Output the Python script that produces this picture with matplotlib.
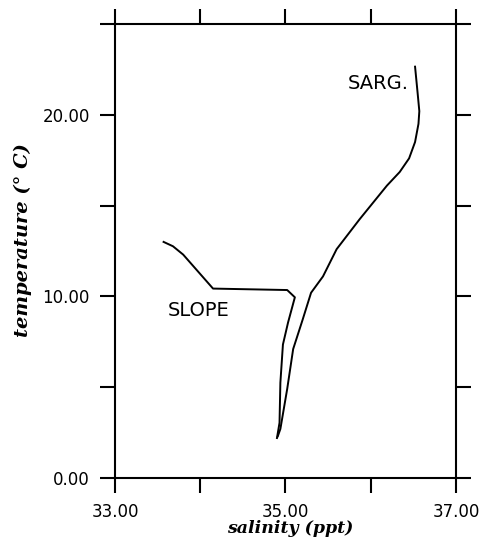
import matplotlib
matplotlib.use("Agg")
import matplotlib.pyplot as plt

# T-S curves (salinity ppt, temperature C)
sarg_sal = [34.91, 34.94, 35.02, 35.09, 35.20, 35.30, 35.44, 35.60, 35.87, 36.19,
            36.34, 36.45, 36.52, 36.56, 36.57, 36.55, 36.52]
sarg_temp = [2.3, 2.7, 4.9, 7.1, 8.7, 10.2, 11.1, 12.6, 14.25, 16.1,
             16.85, 17.6, 18.5, 19.5, 20.2, 21.2, 22.65]

slope_sal = [33.57, 33.68, 33.80, 34.15, 34.47, 35.02, 35.11, 35.03, 34.97, 34.94, 34.93, 34.90]
slope_temp = [13.0, 12.76, 12.3, 10.43, 10.4, 10.35, 9.95, 8.56, 7.35, 5.25, 3.04, 2.2]

xticks = [33, 34, 35, 36, 37]
xlabels = ["33.00", "", "35.00", "", "37.00"]
yticks = [0, 5, 10, 15, 20, 25]
ylabels = ["0.00", "", "10.00", "", "20.00", ""]

fig = plt.figure(figsize=(4.84, 5.39), dpi=100)
ax = fig.add_axes([0.2376, 0.1132, 0.7045, 0.8423])

ax.plot(sarg_sal, sarg_temp, color="black", lw=1.4)
ax.plot(slope_sal, slope_temp, color="black", lw=1.4)

ax.text(36.45, 21.7, "SARG.", fontsize=14, ha="right", va="center")
ax.text(33.62, 9.2, "SLOPE", fontsize=14, ha="left", va="center")

ax.set_xlim(33, 37)
ax.set_ylim(0, 25)
ax.set_xticks(xticks)
ax.set_xticklabels(xlabels, fontsize=12)
ax.set_yticks(yticks)
ax.set_yticklabels(ylabels, fontsize=12)
ax.tick_params(direction="out", length=11, width=1.5, pad=7,
               top=True, right=True, labeltop=False, labelright=False)
for s in ax.spines.values():
    s.set_linewidth(1.5)

lab_font = dict(family="DejaVu Serif", style="italic", weight="bold")
ax.set_xlabel("salinity (ppt)", fontsize=12.5, **lab_font)
ax.set_ylabel("temperature (° C)", fontsize=14, **lab_font)
ax.xaxis.set_label_coords(0.513, -0.093)
ax.xaxis.label.set_va("top")
ax.yaxis.set_label_coords(-0.243, 0.524)

fig.savefig("out.png", dpi=100)
